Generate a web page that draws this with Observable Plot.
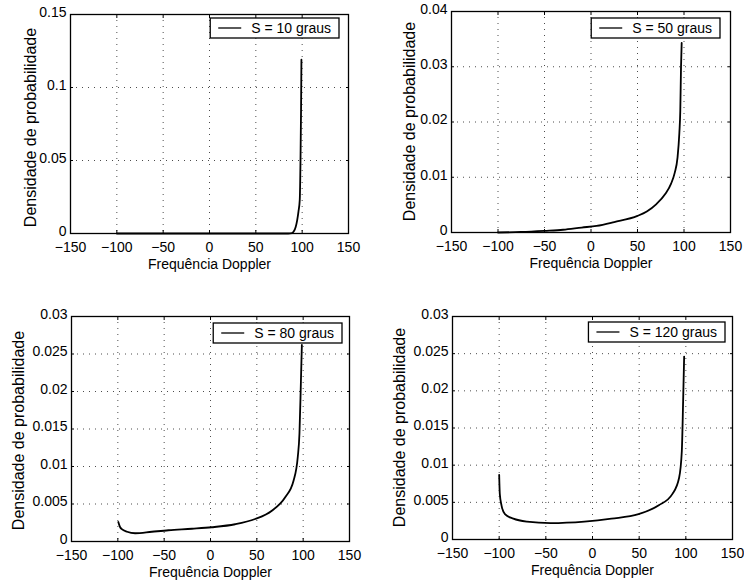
<!DOCTYPE html>
<html>
<head>
<meta charset="utf-8">
<script src="https://cdn.jsdelivr.net/npm/d3@7"></script>
<script src="https://cdn.jsdelivr.net/npm/@observablehq/plot@0.6"></script>
<style>
  html, body { margin: 0; padding: 0; background: white; }
  #wrap { position: relative; width: 744px; height: 585px; background: white; overflow: hidden; }
  .panel { position: absolute; }
</style>
</head>
<body>
<div id="wrap"></div>
<script>
// ---- data ----
const xTicks = [-150, -100, -50, 0, 50, 100, 150];

const yTicks10 = [0, 0.05, 0.1, 0.15];
const yTicks50 = [0, 0.01, 0.02, 0.03, 0.04];
const yTicks80 = [0, 0.005, 0.01, 0.015, 0.02, 0.025, 0.03];
const yTicks120 = [0, 0.005, 0.01, 0.015, 0.02, 0.025, 0.03];

const freq10 = [-100, 0, 85, 89, 91, 93, 94.6, 96, 97.4, 98.2, 98.8, 99.2];
const dens10 = [0, 0, 0, 0.0003, 0.0015, 0.0045, 0.009, 0.015, 0.023, 0.05, 0.085, 0.119];

const freq50 = [-100, -75, -50, -30, -10, 6, 25, 50, 60, 70, 80, 86, 90, 93, 95, 96, 96.8, 97.5];
const dens50 = [0, 0.0001, 0.0003, 0.0005, 0.0009, 0.0012, 0.0019, 0.003, 0.0038, 0.0051, 0.007, 0.0088, 0.0108, 0.0135, 0.018, 0.022, 0.03, 0.0343];

const freq80 = [-99.5, -97.5, -95.7, -90, -81.3, -63.3, -45.3, -20, 1.4, 26.6, 48.2, 66.2, 80.6, 89.6, 94.2, 96, 97.5, 98.6];
const dens80 = [0.0026, 0.0019, 0.00165, 0.0013, 0.0011, 0.0013, 0.0015, 0.0017, 0.0019, 0.0023, 0.003, 0.0041, 0.0059, 0.0081, 0.0113, 0.0144, 0.021, 0.0262];

const freq120 = [-100, -99.3, -97.5, -93.8, -84.8, -70.3, -44.9, -8.7, 20.3, 49.3, 71, 85.5, 92.8, 95.7, 97.1, 98.2];
const dens120 = [0.0087, 0.0061, 0.0046, 0.0034, 0.0028, 0.0024, 0.0022, 0.0024, 0.0028, 0.0034, 0.0046, 0.0061, 0.0083, 0.0119, 0.0186, 0.0246];

const legendLabels = ["S = 10 graus", "S = 50 graus", "S = 80 graus", "S = 120 graus"];
const yDomains = [[0, 0.15], [0, 0.04], [0, 0.03], [0, 0.03]];
const xLabel = "Frequência Doppler";
const yLabel = "Densidade de probabilidade";

// ---- layout ----
const FONT = "'Liberation Sans', Arial, Helvetica, sans-serif";
const panels = [
  {freq: freq10, dens: dens10, yTicks: yTicks10, yDomain: yDomains[0], label: legendLabels[0],
   left: 0, top: 0, width: 372, height: 290, mL: 70, mR: 24, mT: 14, mB: 57, ylDx: -40, ylDy: 4, legR: 9, legT: 4},
  {freq: freq50, dens: dens50, yTicks: yTicks50, yDomain: yDomains[1], label: legendLabels[1],
   left: 372, top: 0, width: 372, height: 290, mL: 79, mR: 14, mT: 11, mB: 58, ylDx: -42, ylDy: 0, legR: 10, legT: 7},
  {freq: freq80, dens: dens80, yTicks: yTicks80, yDomain: yDomains[2], label: legendLabels[2],
   left: 0, top: 290, width: 372, height: 295, mL: 71, mR: 23, mT: 26, mB: 44, ylDx: -53, ylDy: 2, legR: 7, legT: 7},
  {freq: freq120, dens: dens120, yTicks: yTicks120, yDomain: yDomains[3], label: legendLabels[3],
   left: 372, top: 290, width: 372, height: 295, mL: 80, mR: 12, mT: 26, mB: 46, ylDx: -53, ylDy: 0, legR: 7, legT: 6}
];

const fmt = d => String(d).replace("-", "\u2212");

const measureCanvas = document.createElement("canvas").getContext("2d");
function textWidth(s, size) {
  measureCanvas.font = `${size}px 'Liberation Sans', Arial, sans-serif`;
  return measureCanvas.measureText(s).width;
}

// y-axis title and legend box, placed relative to the plot frame
function annotations(p) {
  return (index, scales, values, dimensions) => {
    const {width, height, marginLeft, marginRight, marginTop, marginBottom} = dimensions;
    const g = d3.create("svg:g");
    const cy = marginTop + (height - marginTop - marginBottom) / 2 + p.ylDy;
    const cx = marginLeft + p.ylDx;
    g.append("text")
      .attr("transform", `translate(${cx},${cy}) rotate(-90)`)
      .attr("text-anchor", "middle").attr("dy", "0.35em")
      .attr("font-size", 16).attr("font-family", FONT).attr("fill", "black")
      .text(yLabel);

    const fs = 14;
    const tw = textWidth(p.label, fs);
    const w = 8 + 23 + 10 + tw + 8;
    const h = 20;
    const x1 = width - marginRight - p.legR;
    const x0 = x1 - w;
    const y0 = marginTop + p.legT;
    g.append("rect").attr("x", x0).attr("y", y0).attr("width", w).attr("height", h)
      .attr("fill", "white").attr("stroke", "black").attr("stroke-width", 1.3);
    g.append("line").attr("x1", x0 + 8).attr("x2", x0 + 31).attr("y1", y0 + h / 2).attr("y2", y0 + h / 2)
      .attr("stroke", "black").attr("stroke-width", 1.3);
    g.append("text").attr("x", x0 + 41).attr("y", y0 + h / 2).attr("dy", "0.35em")
      .attr("text-anchor", "start")
      .attr("font-size", fs).attr("font-family", FONT).attr("fill", "black").text(p.label);
    return g.node();
  };
}

const wrap = document.getElementById("wrap");
for (const p of panels) {
  const rows = p.freq.map((f, i) => ({f, d: p.dens[i]}));
  const chart = Plot.plot({
    width: p.width,
    height: p.height,
    marginLeft: p.mL, marginRight: p.mR, marginTop: p.mT, marginBottom: p.mB,
    style: {fontFamily: FONT, fontSize: "14px", color: "black", background: "white", overflow: "visible"},
    x: {domain: [-150, 150]},
    y: {domain: p.yDomain},
    marks: [
      Plot.ruleX(xTicks, {x: d => d, stroke: "black", strokeOpacity: 0.7, strokeDasharray: "1,5"}),
      Plot.ruleY(p.yTicks, {y: d => d, stroke: "black", strokeOpacity: 0.7, strokeDasharray: "1,5"}),
      Plot.axisX(xTicks, {anchor: "bottom", tickSize: 0, tickPadding: 9, tickFormat: fmt, label: null, fontSize: 14}),
      Plot.axisY(p.yTicks, {anchor: "left", tickSize: 0, tickPadding: 4, dy: -2, tickFormat: fmt, label: null, fontSize: 14}),
      Plot.axisX(xTicks, {anchor: "bottom", tickSize: -3, tickFormat: () => "", label: null}),
      Plot.axisX(xTicks, {anchor: "top", tickSize: -3, tickFormat: () => "", label: null}),
      Plot.axisY(p.yTicks, {anchor: "left", tickSize: -3, tickFormat: () => "", label: null}),
      Plot.axisY(p.yTicks, {anchor: "right", tickSize: -3, tickFormat: () => "", label: null}),
      Plot.line(rows, {x: "f", y: "d", stroke: "black", strokeWidth: 1.8, curve: "monotone-x"}),
      Plot.frame({stroke: "black", strokeWidth: 1.3}),
      Plot.text([xLabel], {frameAnchor: "bottom", text: d => d, dy: 35, fontSize: 14, fill: "black"}),
      annotations(p)
    ]
  });
  const div = document.createElement("div");
  div.className = "panel";
  div.style.left = p.left + "px";
  div.style.top = p.top + "px";
  div.appendChild(chart);
  wrap.appendChild(div);
}
</script>
</body>
</html>
